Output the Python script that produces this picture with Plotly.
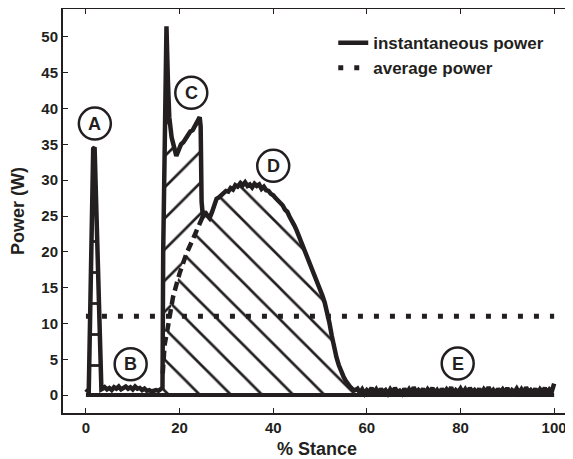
import plotly.graph_objects as go
import numpy as np

# instantaneous power (% stance, W)
stance = [0.0, 0.3, 0.6, 1.55, 1.85, 3.3,
          3.6, 4.0, 4.5, 5.0, 5.5, 6.0, 6.5, 7.0, 7.5, 8.0, 8.5, 9.0, 9.5, 10.0,
          10.5, 11.0, 11.5, 12.0, 12.5, 13.0, 13.5, 14.0, 14.5, 15.0, 15.5, 16.0,
          16.35, 16.5, 16.8, 17.2, 17.5, 17.8, 18.3, 18.8, 19.3, 19.8, 20.3, 20.8,
          21.3, 21.8, 22.3, 22.8, 23.3, 23.8, 24.3, 24.5, 24.7, 25.0, 25.4, 25.9,
          26.4, 26.9, 27.4, 27.9, 28.4, 28.9, 29.4, 29.9, 30.4, 30.9, 31.4, 31.9,
          32.4, 33.0, 33.5, 34.0, 34.5, 35.0, 35.5, 36.0, 36.5, 37.0, 37.5, 38.0,
          38.5, 39.0, 39.5, 40.0, 40.5, 41.0, 41.5, 42.0, 42.5, 43.0, 43.5, 44.0,
          44.5, 45.0, 45.5, 46.0, 46.5, 47.0, 47.5, 48.0, 48.5, 49.0, 49.5, 50.0,
          50.5, 51.0, 51.5, 52.0, 52.5, 53.0, 53.5, 54.0, 54.5, 55.0, 55.5, 56.0,
          56.5, 57.0, 57.5,
          58.0, 58.5, 59.0, 59.5, 60.0, 60.5, 61.0, 61.5, 62.0, 62.5,
          63.0, 63.5, 64.0, 64.5, 65.0, 65.5, 66.0, 66.5, 67.0, 67.5,
          68.0, 68.5, 69.0, 69.5, 70.0, 70.5, 71.0, 71.5, 72.0, 72.5,
          73.0, 73.5, 74.0, 74.5, 75.0, 75.5, 76.0, 76.5, 77.0, 77.5,
          78.0, 78.5, 79.0, 79.5, 80.0, 80.5, 81.0, 81.5, 82.0, 82.5,
          83.0, 83.5, 84.0, 84.5, 85.0, 85.5, 86.0, 86.5, 87.0, 87.5,
          88.0, 88.5, 89.0, 89.5, 90.0, 90.5, 91.0, 91.5, 92.0, 92.5,
          93.0, 93.5, 94.0, 94.5, 95.0, 95.5, 96.0, 96.5, 97.0, 97.5,
          98.0, 98.5, 99.0, 99.5, 100.0]
power = [0.4, 0.6, 0.5, 34.4, 34.6, 0.8,
         0.9, 1.1, 0.8, 1.0, 0.7, 1.1, 0.9, 1.2, 0.8, 1.0, 1.2, 0.9, 1.1, 0.8,
         1.2, 0.9, 1.0, 0.7, 0.9, 0.6, 0.7, 0.5, 0.6, 0.7, 0.6, 0.8,
         1.0, 20.0, 40.0, 51.5, 44.0, 38.8, 36.0, 34.3, 33.4, 34.2, 35.0, 35.3,
         35.9, 36.4, 36.8, 37.0, 37.6, 38.1, 38.8, 37.5, 27.0, 24.8, 25.6, 25.1,
         24.7, 25.5, 26.6, 27.4, 27.6, 27.9, 28.0, 28.5, 28.4, 28.9, 28.7, 29.3,
         29.1, 29.6, 29.3, 29.7, 29.2, 29.4, 29.0, 29.5, 29.2, 29.4, 28.8, 29.1,
         28.6, 28.5, 28.1, 27.9, 27.5, 27.2, 26.9, 26.5, 25.9, 25.6, 24.9, 24.4,
         23.7, 23.0, 22.2, 21.3, 20.5, 19.6, 18.8, 17.9, 17.1, 16.3, 15.5, 14.6,
         13.9, 12.9, 11.6, 10.1, 8.3, 6.6, 5.3, 4.2, 3.3, 2.6, 2.0, 1.5,
         1.1, 0.8, 0.7,
         0.9, 0.3, 0.8, 0.2, 0.7, 0.4, 1.0, 0.3, 0.8, 0.2,
         0.9, 0.4, 0.7, 0.2, 0.8, 0.3, 1.0, 0.4, 0.6, 0.2,
         0.9, 0.3, 0.8, 0.2, 1.1, 0.4, 0.7, 0.3, 0.9, 0.2,
         0.8, 0.4, 1.0, 0.3, 0.7, 0.2, 0.9, 0.4, 0.8, 0.3,
         1.1, 0.2, 0.7, 0.4, 0.9, 0.3, 0.8, 0.2, 1.0, 0.4,
         0.7, 0.3, 0.9, 0.2, 0.8, 0.4, 1.1, 0.3, 0.7, 0.2,
         0.9, 0.4, 0.8, 0.3, 1.0, 0.2, 0.7, 0.4, 0.9, 0.3,
         0.8, 0.2, 1.1, 0.4, 0.7, 0.3, 0.9, 0.2, 0.8, 0.4,
         1.0, 0.3, 0.8, 0.5, 1.6]

# dashed split between region C and region D
split_x = [16.4, 16.8, 17.5, 18.6, 20.0, 21.5, 23.0, 24.3, 25.4]
split_y = [3.0, 7.0, 9.5, 13.7, 17.0, 19.8, 22.0, 23.8, 25.6]

avg_x = [0, 100]
avg_y = [11, 11]

labels = ['A', 'B', 'C', 'D', 'E']
label_x = [1.9, 9.55, 22.5, 40.0, 79.4]
label_y = [37.9, 4.3, 42.2, 32.0, 4.4]

ink = '#231f20'
font = 'Liberation Sans, Arial, sans-serif'

xs = np.array(stance)
ys = np.array(power)


def patch(shape, size=22, solidity=0.12):
    return dict(shape=shape, fgcolor=ink, fgopacity=1, bgcolor='white',
                size=size, solidity=solidity)


fig = go.Figure()

# region A: horizontal hatch
m = (xs >= 0.6) & (xs <= 3.3)
fig.add_trace(go.Scatter(
    x=[0.6] + list(xs[m]) + [3.3], y=[0] + list(ys[m]) + [0],
    fill='toself', fillcolor='white', line=dict(width=0),
    fillpattern=patch('-', size=31, solidity=0.09),
    mode='lines', showlegend=False, hoverinfo='skip'))

# region C: '/' hatch, left of the dashed split
m = (xs >= 16.35) & (xs <= 25.4)
fig.add_trace(go.Scatter(
    x=list(xs[m]) + split_x[::-1], y=list(ys[m]) + split_y[::-1],
    fill='toself', fillcolor='white', line=dict(width=0),
    fillpattern=patch('/'), mode='lines', showlegend=False, hoverinfo='skip'))

# region D: '\' hatch, below the dashed split
m = (xs > 25.4) & (xs <= 57.5)
fig.add_trace(go.Scatter(
    x=[16.4] + split_x + list(xs[m]) + [57.5],
    y=[0] + split_y + list(ys[m]) + [0],
    fill='toself', fillcolor='white', line=dict(width=0),
    fillpattern=patch('\\'), mode='lines', showlegend=False, hoverinfo='skip'))

# baseline
fig.add_trace(go.Scatter(x=[0, 100], y=[0, 0], mode='lines',
                         line=dict(color=ink, width=4), showlegend=False))

fig.add_trace(go.Scatter(x=split_x, y=split_y, mode='lines',
                         line=dict(color=ink, width=4.5, dash='9px,5px'),
                         showlegend=False))

fig.add_trace(go.Scatter(x=stance, y=power, mode='lines', name='instantaneous power',
                         line=dict(color=ink, width=4.5)))

fig.add_trace(go.Scatter(x=avg_x, y=avg_y, mode='lines', name='average power',
                         line=dict(color=ink, width=5, dash='5px,11px')))

for t, lx, ly in zip(labels, label_x, label_y):
    fig.add_shape(type='circle', xref='x', yref='y', xsizemode='pixel', ysizemode='pixel',
                  xanchor=lx, yanchor=ly, x0=-16, x1=16, y0=-16, y1=16,
                  line=dict(color=ink, width=2.5), fillcolor='white', layer='above')
    fig.add_annotation(x=lx, y=ly, text=t, showarrow=False,
                       font=dict(family=font, size=18, color=ink, weight='bold'))

axis = dict(showline=True, linewidth=2, linecolor=ink, mirror='ticks',
            ticks='inside', ticklen=5, tickwidth=1, tickcolor=ink,
            showgrid=False, zeroline=False, automargin=False,
            tickfont=dict(family=font, size=15, color=ink, weight='bold'))

# the page body adds an 8px margin, so the figure is 8px smaller than the window
fig.update_layout(
    width=565, height=451,
    margin=dict(l=55, r=2, t=1, b=46),
    plot_bgcolor='white', paper_bgcolor='white',
    xaxis=dict(axis, range=[-4.9, 103.6], tickvals=[0, 20, 40, 60, 80, 100],
               title=dict(text='% Stance', standoff=10,
                          font=dict(family=font, size=18, color=ink, weight='bold'))),
    yaxis=dict(axis, range=[-2.5, 53.9], tickvals=list(range(0, 51, 5)),
               title=dict(text='Power (W)', standoff=12,
                          font=dict(family=font, size=18, color=ink, weight='bold'))),
    legend=dict(x=0.532, y=0.96, xanchor='left', yanchor='top',
                bgcolor='rgba(0,0,0,0)', tracegroupgap=0,
                font=dict(family=font, size=17, color=ink, weight='bold')),
)

fig.write_html("out.html")
